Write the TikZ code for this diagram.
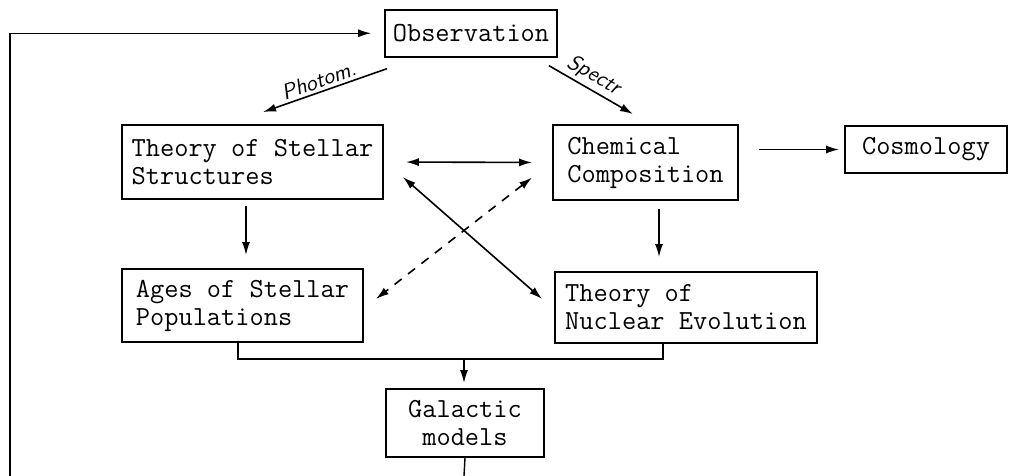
\documentclass[tikz,border=0pt]{standalone}
\usepackage{fontspec}
\usetikzlibrary{arrows.meta}
\tikzset{
  caixa/.style={draw, line width=0.9pt, inner sep=0pt, align=left,
    font=\ttfamily\fontsize{13.8}{14}\selectfont},
  seta/.style={-{Latex[length=6.5pt,width=4pt]}, line width=0.8pt},
  duplaseta/.style={{Latex[length=6.5pt,width=4pt]}-{Latex[length=6.5pt,width=4pt]}, line width=0.8pt},
  rotulo/.style={font=\sffamily\itshape\fontsize{11}{12}\selectfont, inner sep=1.5pt}
}
\begin{document}
\begin{tikzpicture}[x=0.5pt,y=-0.5pt]  %Unidade = 1 pixel
  \useasboundingbox (0,0) rectangle (1009,476);
        %Caixas
  \node[caixa, minimum width=86pt, minimum height=23.5pt] (obs) at (471,33.25) {Observation};
  \node[caixa, minimum width=130.5pt, minimum height=37pt] (stellar) at (252.5,162) {Theory of Stellar\\Structures};
  \node[caixa, minimum width=92.5pt, minimum height=37.5pt] (chem) at (645.5,162.5) {Chemical\\Composition};
  \node[caixa, minimum width=81pt, minimum height=23.5pt] (cosmo) at (926,149.5) {Cosmology};
  \node[caixa, minimum width=120.5pt, minimum height=36.5pt] (ages) at (242.5,305.5) {Ages of Stellar\\Populations};
  \node[caixa, minimum width=131pt, minimum height=35.5pt] (nuc) at (686,307.5) {Theory of\\Nuclear Evolution};
  \node[caixa, align=center, minimum width=79pt, minimum height=34pt] (galactic) at (465,423) {Galactic\\models};
        %Pontos auxiliares
  \coordinate (s1) at ([xshift=-3.25pt]stellar.south);
  \coordinate (c1) at ([xshift=6.75pt]chem.south);
  \coordinate (juncao) at (464,359);
  \coordinate (fundoGal) at (464,476);
  \coordinate (fundoEsq) at (10,476);
        %Setas
  \draw[seta] ([shift={(3,11)}]obs.south west) -- ([shift={(10.5,-12)}]stellar.north)
      node[pos=0.52, sloped, above, rotulo]{Photom.};
  \draw[seta] ([shift={(-9,8)}]obs.south east) -- ([shift={(-12.5,-10)}]chem.north)
      node[pos=0.45, sloped, above, rotulo]{Spectr};
  \draw[duplaseta, shorten <=11pt, shorten >=10pt] (stellar.east) -- (chem.west);
  \draw[duplaseta] ([shift={(19,15)}]stellar.east) -- ([shift={(-12,-8.5)}]nuc.west);
  \draw[duplaseta, dash pattern=on 4.5pt off 4pt] ([shift={(-20,15)}]chem.west) -- ([shift={(12,-6.5)}]ages.east);
  \draw[seta, shorten <=3pt, shorten >=6.5pt] (s1) -- (s1 |- ages.north);
  \draw[seta, shorten <=4pt, shorten >=7pt] (c1) -- (c1 |- nuc.north);
  \draw[seta, shorten <=10pt, shorten >=2.5pt] (chem.east |- cosmo.west) -- (cosmo.west);
        %Junção para modelos galácticos
  \draw[line width=0.8pt] ([xshift=-2.25pt]ages.south) |- (juncao) -| ([xshift=-11.5pt]nuc.south);
  \draw[seta, shorten >=2.5pt] (juncao) -- (juncao |- galactic.north);
        %Realimentação
  \draw[line width=0.7pt] (galactic.south) -- (fundoGal);
  \draw[seta, line width=0.7pt, shorten >=6.5pt] (fundoEsq) |- (obs.west);
\end{tikzpicture}
\end{document}
